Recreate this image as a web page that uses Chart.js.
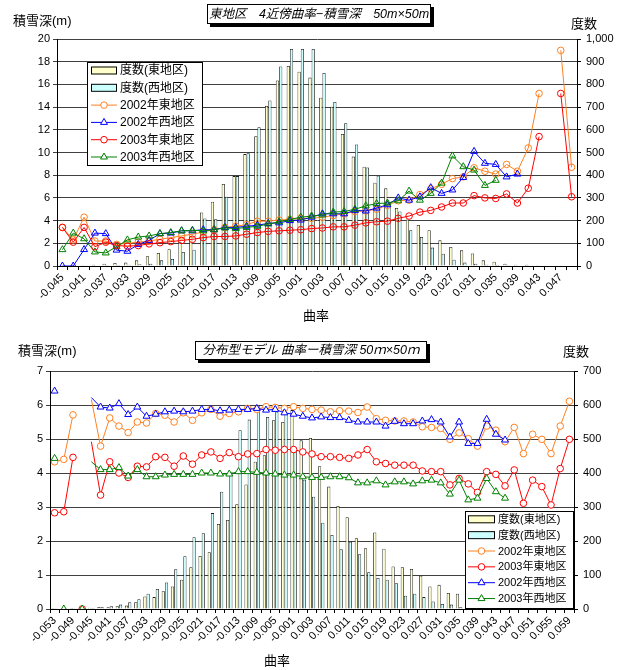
<!DOCTYPE html>
<html>
<head>
<meta charset="utf-8">
<script src="https://cdn.jsdelivr.net/npm/chart.js@4/dist/chart.umd.min.js"></script>
<style>
body { margin: 0; background: #fff; width: 623px; height: 670px; position: relative; overflow: hidden;
  font-family: 'Liberation Sans', 'Noto Sans CJK JP', sans-serif; color: #000; }
canvas { position: absolute; left: 0; }
.lbl { position: absolute; font-size: 13px; line-height: 1; white-space: nowrap; }
.ttl { position: absolute; border: 1px solid #000; background: #fff; box-shadow: 3px 3px 0 #000;
  font-style: italic; font-size: 12.5px; line-height: 18px; text-align: center; white-space: nowrap; }
</style>
</head>
<body>
<canvas id="topChart" width="623" height="335" style="top:0"></canvas>
<canvas id="botChart" width="623" height="335" style="top:335px"></canvas>

<div class="ttl" style="left:207px;top:4px;width:222px;height:18px">東地区　4近傍曲率−積雪深　50m×50m</div>
<div class="lbl" style="left:13px;top:14px">積雪深(m)</div>
<div class="lbl" style="left:571px;top:17px">度数</div>
<div class="lbl" style="left:303px;top:309px">曲率</div>

<div class="ttl" style="left:195px;top:341px;width:230px;height:17px;line-height:17px">分布型モデル 曲率ー積雪深 50ｍ×50ｍ</div>
<div class="lbl" style="left:18px;top:344px">積雪深(m)</div>
<div class="lbl" style="left:563px;top:345px">度数</div>
<div class="lbl" style="left:264px;top:654px">曲率</div>

<script>
const FONT = "'Liberation Sans', 'Noto Sans CJK JP', sans-serif"

// ---- upper chart: 東地区 4近傍曲率 ----
const topCurv = ['-0.045','-0.043','-0.041','-0.039','-0.037','-0.035','-0.033','-0.031','-0.029','-0.027',
  '-0.025','-0.023','-0.021','-0.019','-0.017','-0.015','-0.013','-0.011','-0.009','-0.007',
  '-0.005','-0.003','-0.001','0.001','0.003','0.005','0.007','0.009','0.011','0.013',
  '0.015','0.017','0.019','0.021','0.023','0.025','0.027','0.029','0.031','0.033',
  '0.035','0.037','0.039','0.041','0.043','0.045','0.047','0.049']
const topFreqEast = [2,2,3,5,10,13,15,25,43,57,74,106,155,236,283,361,396,493,572,705,
  817,881,856,830,741,702,582,482,437,367,342,256,205,181,158,113,84,69,55,25,
  19,10,6,5,3,2,1,0]
const topFreqWest = [0,0,1,2,3,4,6,8,10,25,31,62,72,209,206,305,396,497,611,729,
  879,956,956,956,850,723,629,535,434,398,275,240,158,128,81,54,28,15,10,6,
  4,3,2,1,0,0,0,0]
const topEast2002 = [3.4,2.3,4.3,2.2,2.2,1.9,2.0,2.1,2.2,2.35,2.5,2.65,2.8,3.0,3.2,3.4,3.5,3.65,3.95,3.95,
  4.05,4.1,4.2,4.2,4.3,4.45,4.6,4.8,4.85,5.0,5.35,5.75,5.8,6.3,6.8,7.2,7.7,7.85,8.65,8.35,
  8.1,8.95,8.35,10.4,15.2,null,19.0,8.7]
const topWest2002 = [0,0,1.45,2.9,2.85,1.4,1.3,1.9,2.25,2.85,2.9,3.1,3.1,3.2,3.2,3.4,3.4,3.5,3.6,3.75,
  3.8,4.0,4.05,4.3,4.6,4.6,4.6,4.9,4.85,5.1,5.4,6.0,5.8,6.1,6.9,6.4,6.7,7.8,10.1,9.05,
  8.95,7.85,8.1,null,null,null,null,null]
const topEast2003 = [3.4,2.1,3.4,1.7,2.1,1.8,1.75,1.8,1.95,2.05,2.15,2.25,2.35,2.5,2.6,2.6,2.65,2.8,2.95,3.05,
  3.1,3.15,3.2,3.3,3.35,3.45,3.45,3.6,3.8,3.9,3.95,4.2,4.4,4.75,4.9,5.2,5.55,5.55,6.2,6.0,
  5.95,6.35,5.55,6.85,11.4,null,15.2,6.1]
const topWest2003 = [1.44,2.9,2.4,1.24,1.15,1.7,2.3,2.55,2.65,2.85,2.95,3.1,3.15,3.1,3.2,3.35,3.3,3.4,3.5,3.7,
  3.9,4.1,4.3,4.4,4.5,4.75,4.8,5.0,5.3,5.5,5.55,5.75,6.6,5.8,6.4,7.3,9.7,8.75,8.45,7.1,
  7.55,null,null,null,null,null,null,null]

// ---- lower chart: 分布型モデル ----
const botCurv = ['-0.053','-0.051','-0.049','-0.047','-0.045','-0.043','-0.041','-0.039','-0.037','-0.035',
  '-0.033','-0.031','-0.029','-0.027','-0.025','-0.023','-0.021','-0.019','-0.017','-0.015',
  '-0.013','-0.011','-0.009','-0.007','-0.005','-0.003','-0.001','0.001','0.003','0.005',
  '0.007','0.009','0.011','0.013','0.015','0.017','0.019','0.021','0.023','0.025',
  '0.027','0.029','0.031','0.033','0.035','0.037','0.039','0.041','0.043','0.045',
  '0.047','0.049','0.051','0.053','0.055','0.057','0.059']
const botFreqEast = [3,2,3,2,4,6,5,8,10,20,37,35,52,66,86,123,156,167,250,262,
  308,366,433,452,555,550,585,496,503,420,360,303,270,208,179,225,177,125,123,118,
  98,66,71,47,45,3,2,1,1,0,0,0,0,0,0,0,0]
const botFreqWest = [2,1,2,1,3,5,8,13,20,29,45,59,78,117,155,211,223,282,345,404,
  526,557,600,565,580,575,470,380,330,254,218,176,198,161,108,91,86,76,39,45,
  35,22,15,13,5,2,1,1,0,0,0,0,0,0,0,0,0]
const botEast2002 = [4.33,4.4,5.71,null,6.16,4.79,5.62,5.38,5.19,5.5,5.47,5.75,5.7,5.5,5.77,5.55,5.77,5.87,5.67,5.75,
  5.8,5.9,5.87,5.95,5.93,5.9,5.95,5.9,5.87,5.85,5.8,5.83,5.82,5.78,5.94,5.6,5.55,5.53,5.53,5.5,
  5.36,5.34,5.31,4.99,5.18,5.01,4.79,5.38,5.26,4.92,5.34,4.57,5.14,4.99,4.57,5.38,6.11]
const botEast2003 = [2.83,2.86,4.46,0,4.92,3.35,4.33,4.0,3.87,4.2,4.18,4.48,4.46,4.2,4.5,4.26,4.53,4.62,4.43,4.6,
  4.48,4.56,4.57,4.69,4.67,4.69,4.69,4.62,4.56,4.48,4.48,4.46,4.43,4.53,4.69,4.33,4.28,4.23,4.23,4.23,
  4.06,4.04,4.04,3.65,3.84,3.68,3.43,4.04,3.96,3.62,4.09,3.11,3.79,3.6,3.06,4.13,4.99]
const botWest2002 = [6.41,null,null,null,6.22,5.94,5.91,6.04,5.72,5.94,5.67,5.73,5.8,5.82,5.8,5.82,5.87,5.87,5.83,5.85,
  5.87,5.87,5.9,5.85,5.87,5.77,5.73,5.67,5.62,5.65,5.63,5.63,5.55,5.5,5.5,5.5,5.38,5.52,5.45,5.45,
  5.53,5.57,5.5,5.06,5.5,4.87,4.87,5.58,5.14,4.97,null,null,null,null,null,null,null]
const botWest2003 = [4.43,0,null,0,4.33,4.1,4.1,4.16,3.91,4.1,3.89,3.89,3.94,3.96,3.96,3.96,4.0,4.0,3.97,3.97,
  4.04,4.04,4.02,4.0,3.97,3.94,3.94,3.89,3.87,3.87,3.89,3.89,3.86,3.71,3.71,3.77,3.65,3.74,3.74,3.68,
  3.77,3.79,3.71,3.38,3.79,3.21,3.26,3.84,3.45,3.26,null,null,null,null,null,null,null]

const ORANGE = '#FF8020'
const BLUE = '#0000FF'
const RED = '#FF0000'
const GREEN = '#008000'

// legend box drawn inside the plot, Excel style
const boxLegend = {
  id: 'boxLegend',
  afterDraw(chart, _args, o) {
    const ctx = chart.ctx
    ctx.save()
    ctx.fillStyle = '#fff'
    ctx.fillRect(o.x, o.y, o.w, o.h)
    ctx.strokeStyle = '#000'
    ctx.lineWidth = 1
    ctx.strokeRect(o.x + 0.5, o.y + 0.5, o.w, o.h)
    ctx.font = o.fontSize + 'px ' + FONT
    ctx.textBaseline = 'middle'
    ctx.textAlign = 'left'
    chart.data.datasets.forEach((ds, k) => {
      const cy = o.firstRow + k * o.rowH
      const x0 = o.x + o.sampleX
      const x1 = x0 + o.sampleW
      if (ds.type === 'bar') {
        ctx.fillStyle = ds.backgroundColor
        ctx.fillRect(x0, cy - 4, o.sampleW, 8)
        ctx.strokeStyle = '#000'
        ctx.strokeRect(x0 + 0.5, cy - 3.5, o.sampleW - 1, 7)
      } else {
        ctx.strokeStyle = ds.borderColor
        ctx.lineWidth = 1
        ctx.beginPath()
        ctx.moveTo(x0, cy)
        ctx.lineTo(x1, cy)
        ctx.stroke()
        ctx.fillStyle = '#fff'
        Chart.helpers.drawPoint(ctx, {
          pointStyle: ds.pointStyle,
          radius: ds.pointStyle === 'triangle' ? 4 : 3.3,
          borderWidth: 1,
          rotation: 0
        }, (x0 + x1) / 2, cy)
      }
      ctx.fillStyle = '#000'
      ctx.fillText(ds.label, o.x + o.textX, cy + 0.5)
    })
    ctx.restore()
  }
}

const barSet = (label, data, color, catPct) => ({
  type: 'bar', label, data, yAxisID: 'y1', order: 10,
  backgroundColor: color, borderColor: '#1a1a1a', borderWidth: 0.8,
  categoryPercentage: catPct, barPercentage: 1
})

const lineSet = (label, data, color, style, order, opts = {}) => ({
  type: 'line', label, data, yAxisID: 'y', order,
  borderColor: color, backgroundColor: color, borderWidth: 1, tension: 0,
  pointStyle: style,
  pointRadius: style === 'triangle' ? 4 : 3.3,
  pointBorderColor: color, pointBorderWidth: 1,
  pointBackgroundColor: 'rgba(0,0,0,0)',
  ...opts
})

const tickFont = { family: FONT, size: 11 }

const buildOptions = ({ labels, yMax, yStep, y1Max, pad, leftW, rightW, xH, legend, y1Fmt }) => ({
  responsive: false,
  animation: false,
  events: [],
  devicePixelRatio: 1,
  layout: { padding: { top: pad, left: 0, right: 0, bottom: 0 } },
  plugins: { legend: { display: false }, tooltip: { enabled: false }, boxLegend: legend },
  scales: {
    x: {
      type: 'category',
      offset: true,
      grid: { offset: true, drawOnChartArea: false, drawTicks: true, tickLength: 4, color: '#000' },
      border: { color: '#000' },
      ticks: {
        autoSkip: false, minRotation: 45, maxRotation: 45, padding: 1,
        font: tickFont, color: '#000',
        callback: (v, i) => (i % 2 === 0 ? labels[i] : '')
      },
      afterFit: (s) => { s.height = xH }
    },
    y: {
      position: 'left', min: 0, max: yMax,
      ticks: { stepSize: yStep, font: tickFont, color: '#000', padding: 3 },
      grid: { color: '#404040', tickLength: 4 },
      border: { color: '#000' },
      afterFit: (s) => { s.width = leftW }
    },
    y1: {
      position: 'right', min: 0, max: y1Max,
      ticks: { stepSize: 100, font: tickFont, color: '#000', padding: 5, callback: y1Fmt },
      grid: { drawOnChartArea: false, tickLength: 4, color: '#000' },
      border: { color: '#000' },
      afterFit: (s) => { s.width = rightW }
    }
  }
})

new Chart(document.getElementById('topChart').getContext('2d'), {
  data: {
    labels: topCurv,
    datasets: [
      barSet('度数(東地区)', topFreqEast, '#FFFFCC', 0.6),
      barSet('度数(西地区)', topFreqWest, '#CCFFFF', 0.6),
      lineSet('2002年東地区', topEast2002, ORANGE, 'circle', 4),
      lineSet('2002年西地区', topWest2002, BLUE, 'triangle', 3),
      lineSet('2003年東地区', topEast2003, RED, 'circle', 1),
      lineSet('2003年西地区', topWest2003, GREEN, 'triangle', 2)
    ]
  },
  options: buildOptions({
    labels: topCurv, yMax: 20, yStep: 2, y1Max: 1000, pad: 39,
    leftW: 57, rightW: 46, xH: 69,
    y1Fmt: (v) => v.toLocaleString('en-US'),
    legend: { x: 87, y: 62, w: 115, h: 103, firstRow: 70.5, rowH: 17.3, sampleX: 4, sampleW: 26, textX: 33, fontSize: 12 }
  }),
  plugins: [boxLegend]
})

// lower chart: lines start at index 4 without a marker, zero values stand alone
const hideSegment = {
  borderColor: (c) => {
    const d = c.chart.data.datasets[c.datasetIndex].data
    return d[c.p0DataIndex] === 0 || d[c.p1DataIndex] === 0 ? 'rgba(0,0,0,0)' : undefined
  }
}
const botLine = (label, data, color, style, order) => lineSet(label, data, color, style, order, {
  pointBackgroundColor: '#fff',
  pointRadius: (c) => (c.dataIndex === 4 ? 0 : (style === 'triangle' ? 4 : 3.3)),
  segment: hideSegment
})

new Chart(document.getElementById('botChart').getContext('2d'), {
  data: {
    labels: botCurv,
    datasets: [
      barSet('度数(東地区)', botFreqEast, '#FFFFCC', 0.7),
      barSet('度数(西地区)', botFreqWest, '#CCFFFF', 0.7),
      botLine('2002年東地区', botEast2002, ORANGE, 'circle', 4),
      botLine('2003年東地区', botEast2003, RED, 'circle', 3),
      botLine('2002年西地区', botWest2002, BLUE, 'triangle', 2),
      botLine('2003年西地区', botWest2003, GREEN, 'triangle', 1)
    ]
  },
  options: buildOptions({
    labels: botCurv, yMax: 7, yStep: 1, y1Max: 700, pad: 36,
    leftW: 50, rightW: 49, xH: 61,
    y1Fmt: (v) => v,
    legend: { x: 465, y: 176, w: 108, h: 97, firstRow: 184.3, rowH: 15.85, sampleX: 3, sampleW: 27, textX: 33, fontSize: 11 }
  }),
  plugins: [boxLegend]
})
</script>
</body>
</html>
